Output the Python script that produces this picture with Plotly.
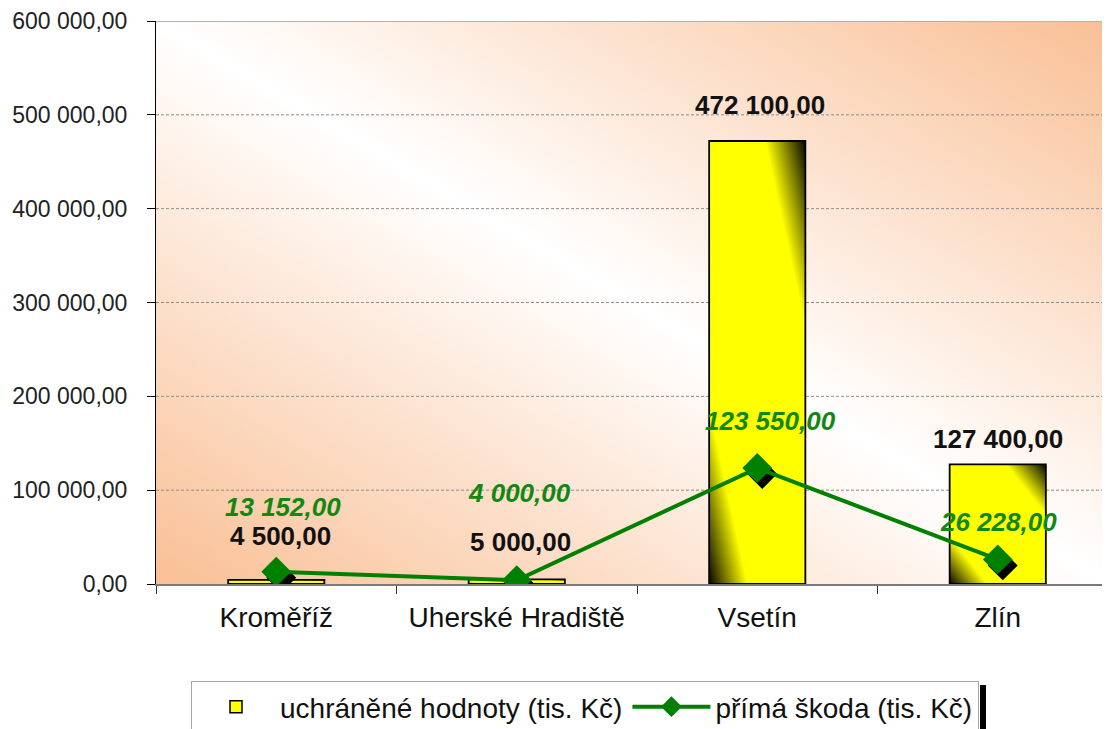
import base64
import plotly.graph_objects as go

# ---------------- data ----------------
categories = ["Kroměříž", "Uherské Hradiště", "Vsetín", "Zlín"]
protected_values = [4500, 5000, 472100, 127400]      # uchráněné hodnoty (tis. Kč)
direct_damage = [13152, 4000, 123550, 26228]         # přímá škoda (tis. Kč)
y_ticks = [0, 100000, 200000, 300000, 400000, 500000, 600000]
bar_name = "uchráněné hodnoty (tis. Kč)"
line_name = "přímá škoda (tis. Kč)"

# ---------------- style ----------------
PAGE_OFF = 8                      # default body margin of the html page
W, H = 1110 - PAGE_OFF, 729 - PAGE_OFF
L, R, T, B = 156 - PAGE_OFF, 0, 21 - PAGE_OFF, 145
plot_w = W - L - R
plot_h = H - T - B
cat_px = 240.5
x_range = [-0.5, plot_w / cat_px - 0.5]
y_max = 600000
FONT = "Liberation Sans, Arial, sans-serif"
GREEN = "#008000"
BG_EDGE = "#f9bf94"

bar_label_shift = [44, 37, 36, 25]
bar_label_xshift = [4, 4, 3, 0]
line_label_shift = [65, 87, 47, 37]
line_label_xshift = [7, 3, 13, 1]


def fmt(v):
    return f"{v:,.2f}".replace(",", " ").replace(".", ",")


def svg_uri(svg):
    return "data:image/svg+xml;base64," + base64.b64encode(svg.encode("utf-8")).decode("ascii")


def diag_gradient_svg(w, h, stops):
    # gradient from bottom-left to top-right corner, isolines parallel to the
    # top-left -> bottom-right diagonal
    norm = (w * w + h * h) ** 0.5
    nx, ny = h / norm, -w / norm
    k = w * h / norm
    cx, cy = w / 2, h / 2
    x1, y1 = cx - nx * k, cy - ny * k
    x2, y2 = cx + nx * k, cy + ny * k
    st = "".join(f'<stop offset="{o}" stop-color="{c}"/>' for o, c in stops)
    return (
        f'<svg xmlns="http://www.w3.org/2000/svg" width="{w:.2f}" height="{h:.2f}">'
        f'<defs><linearGradient id="g" gradientUnits="userSpaceOnUse" '
        f'x1="{x1:.3f}" y1="{y1:.3f}" x2="{x2:.3f}" y2="{y2:.3f}">{st}</linearGradient></defs>'
        f'<rect x="0" y="0" width="{w:.2f}" height="{h:.2f}" fill="url(#g)"/></svg>'
    )


bg_stops = [(0, BG_EDGE), (0.5, "#ffffff"), (1, BG_EDGE)]
bar_stops = [(0, "#050500"), (0.2, "#ffff00"), (0.79, "#ffff00"), (1, "#050500")]

bar_width = 0.4
dx = 5 / cat_px
dy = 6 / plot_h * y_max

fig = go.Figure()

# bars (outline; gradient fill is drawn below as images sized from the data)
fig.add_trace(go.Bar(
    x=categories, y=protected_values, width=bar_width,
    marker=dict(color="rgba(0,0,0,0)", line=dict(color="black", width=1.8)),
    showlegend=False, hoverinfo="skip",
))
# legend entry for the bars
fig.add_trace(go.Bar(
    x=[None], y=[None], name=bar_name,
    marker=dict(color="#ffff00", line=dict(color="black", width=1.5)),
))
# marker shadows
fig.add_trace(go.Scatter(
    x=categories, y=direct_damage, mode="markers", xaxis="x2", yaxis="y2",
    marker=dict(symbol="diamond", size=23, color="black"),
    showlegend=False, hoverinfo="skip",
))
# line
fig.add_trace(go.Scatter(
    x=categories, y=direct_damage, mode="lines+markers", name=line_name,
    xaxis="x3", yaxis="y3",
    line=dict(color=GREEN, width=4),
    marker=dict(symbol="diamond", size=23, color=GREEN),
))

images = [dict(
    source=svg_uri(diag_gradient_svg(plot_w, plot_h, bg_stops)),
    xref="paper", yref="paper", x=0, y=1, sizex=1, sizey=1,
    xanchor="left", yanchor="top", sizing="stretch", layer="below",
)]
for i, v in enumerate(protected_values):
    bw_px = bar_width * cat_px
    bh_px = max(v / y_max * plot_h, 1)
    images.append(dict(
        source=svg_uri(diag_gradient_svg(bw_px, bh_px, bar_stops)), xref="x", yref="y",
        x=i - bar_width / 2, y=v, sizex=bar_width, sizey=v,
        xanchor="left", yanchor="top", sizing="stretch", layer="below",
    ))

shapes = []
for t in y_ticks:
    if 0 < t < y_max:
        shapes.append(dict(type="line", xref="paper", yref="y", x0=0, x1=1, y0=t, y1=t,
                           line=dict(color="#8c8c8c", width=1, dash="3px,2px"), layer="below"))
shapes.append(dict(type="line", xref="paper", yref="y", x0=0, x1=1, y0=y_max, y1=y_max,
                   line=dict(color="#b3b3b3", width=2), layer="below"))
# legend shadow
shapes.append(dict(type="rect", xref="paper", yref="paper",
                   x0=(980 - 156) / plot_w, x1=(986 - 156) / plot_w,
                   y0=(584 - 685) / plot_h, y1=(584 - 729) / plot_h,
                   fillcolor="black", line=dict(width=0), layer="below"))

annotations = []
for i, v in enumerate(protected_values):
    annotations.append(dict(
        x=categories[i], y=v, xref="x", yref="y", text=fmt(v), showarrow=False,
        yanchor="middle", yshift=bar_label_shift[i], xshift=bar_label_xshift[i],
        font=dict(family=FONT, size=26, color="#111111", weight="bold"),
    ))
for i, v in enumerate(direct_damage):
    annotations.append(dict(
        x=categories[i], y=v, xref="x", yref="y", text=fmt(v), showarrow=False,
        yanchor="middle", yshift=line_label_shift[i], xshift=line_label_xshift[i],
        font=dict(family=FONT, size=26, color="#118811", weight="bold", style="italic"),
    ))

fig.update_layout(
    width=W, height=H,
    margin=dict(l=L, r=R, t=T, b=B, autoexpand=False),
    paper_bgcolor="white", plot_bgcolor="rgba(0,0,0,0)",
    separators=", ",
    barmode="overlay",
    font=dict(family=FONT, color="#111111"),
    images=images, shapes=shapes, annotations=annotations,
    xaxis=dict(
        type="category", range=x_range, showgrid=False, zeroline=False,
        showline=True, linecolor="#7a7a7a", linewidth=2,
        ticks="outside", tickson="boundaries", ticklen=8, tickcolor="#333333", tickwidth=1,
        tickfont=dict(family=FONT, size=28, color="#111111"), ticklabelstandoff=7,
        automargin=False, fixedrange=True,
    ),
    yaxis=dict(
        range=[0, y_max], tickvals=y_ticks, tickformat=",.2f", showgrid=False, zeroline=False,
        showline=True, linecolor="black", linewidth=1,
        ticks="outside", ticklen=8, tickcolor="black", tickwidth=1,
        tickfont=dict(family=FONT, size=23, color="#222222"), ticklabelstandoff=15,
        automargin=False, fixedrange=True,
    ),
    xaxis2=dict(type="category", overlaying="x", anchor="y2", range=[x_range[0] - dx, x_range[1] - dx],
                visible=False, fixedrange=True),
    yaxis2=dict(overlaying="y", anchor="x2", range=[dy, y_max + dy], visible=False, fixedrange=True),
    xaxis3=dict(type="category", overlaying="x", anchor="y3", range=x_range, visible=False, fixedrange=True),
    yaxis3=dict(overlaying="y", anchor="x3", range=[0, y_max], visible=False, fixedrange=True),
    legend=dict(
        orientation="h", x=(191 - 156) / plot_w, xanchor="left",
        y=(584 - 681) / plot_h, yanchor="top",
        bgcolor="white", bordercolor="#a6a6a6", borderwidth=1,
        font=dict(family=FONT, size=28, color="#111111"),
        itemwidth=78, traceorder="normal",
    ),
    showlegend=True,
)

fig.write_html("out.html")
